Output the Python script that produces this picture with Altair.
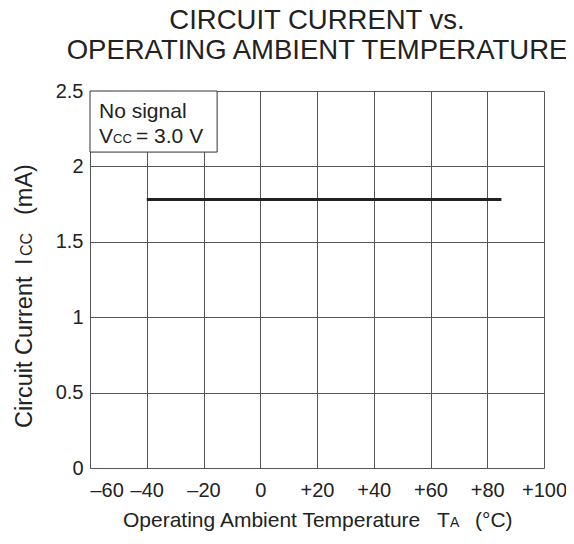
import altair as alt
import pandas as pd

# ---- data ----
temps = [-40, 85]
icc = [1.78, 1.78]

x_ticks = [-60, -40, -20, 0, 20, 40, 60, 80, 100]
y_ticks = [0, 0.5, 1, 1.5, 2, 2.5]

title_lines = ["CIRCUIT CURRENT vs.", "OPERATING AMBIENT TEMPERATURE"]
note_line1 = "No signal"
note_v = "V"
note_sub = "CC"
note_rest = "= 3.0 V"
note_box_t = [-60, -15.2]
note_box_i = [2.095, 2.5]

xtitle_parts = ["Operating Ambient Temperature", "T", "A", "(°C)"]
ytitle_parts = ["Circuit Current", "I", "CC", "(mA)"]

FONT = "Liberation Sans"
INK = "#222222"
W, H = 454, 377

df = pd.DataFrame({"t": temps, "i": icc})
box_df = pd.DataFrame({"t": [note_box_t[0]], "t2": [note_box_t[1]],
                       "i": [note_box_i[0]], "i2": [note_box_i[1]]})

xscale = alt.Scale(domain=[-60, 100], nice=False, zero=False)
yscale = alt.Scale(domain=[0, 2.5], nice=False, zero=False)

x_axis = alt.Axis(
    values=x_ticks, grid=True, gridColor="#555555", gridWidth=1,
    ticks=False, domain=False, title=None,
    labelExpr="datum.value > 0 ? '+' + datum.value : (datum.value < 0 ? '–' + abs(datum.value) : '0')",
    labelAlign=alt.expr("datum.value == -60 ? 'left' : 'center'"),
    labelFontSize=20, labelFont=FONT, labelColor=INK, labelPadding=12,
    labelOverlap=False, labelFlush=False,
)
y_axis = alt.Axis(
    values=y_ticks, grid=True, gridColor="#555555", gridWidth=1,
    ticks=False, domain=False, title=None,
    labelExpr="'' + datum.value",
    labelFontSize=20, labelFont=FONT, labelColor=INK, labelPadding=7,
    labelOverlap=False, labelFlush=False,
)

line = alt.Chart(df).mark_line(color=INK, strokeWidth=3).encode(
    x=alt.X("t:Q", scale=xscale, axis=x_axis),
    y=alt.Y("i:Q", scale=yscale, axis=y_axis),
)

box = alt.Chart(box_df).mark_rect(fill="white", stroke="#333333", strokeWidth=1).encode(
    x=alt.X("t:Q", scale=xscale),
    x2="t2:Q",
    y=alt.Y("i:Q", scale=yscale),
    y2="i2:Q",
)


def txt(s, x, y, size, align="left", angle=0):
    return alt.Chart(alt.Data(values=[{}])).mark_text(
        text=s, align=align, baseline="alphabetic", fontSize=size,
        font=FONT, color=INK, angle=angle,
    ).encode(x=alt.value(x), y=alt.value(y))


notes = [
    txt(note_line1, 9, 27, 21),
    txt(note_v, 9, 52, 21),
    txt(note_sub, 23, 52, 13),
    txt(note_rest, 46, 52, 21),
]

xt = [
    txt(xtitle_parts[0], 33, 436, 21),
    txt(xtitle_parts[1], 347, 436, 21),
    txt(xtitle_parts[2], 360, 436, 14),
    txt(xtitle_parts[3], 385, 436, 21),
]

yt = [
    txt(ytitle_parts[0], -58, 337, 23.5, angle=270),
    txt(ytitle_parts[1], -58, 174, 23.5, angle=270),
    txt(ytitle_parts[2], -58, 165, 16, angle=270),
    txt(ytitle_parts[3], -58, 124, 23.5, angle=270),
]

chart = alt.layer(box, line, *notes, *xt, *yt).properties(
    width=W, height=H,
    title=alt.TitleParams(
        text=title_lines, fontSize=27.5, font=FONT, fontWeight="normal",
        color=INK, lineHeight=30, offset=17, anchor="middle",
    ),
    autosize=alt.AutoSizeParams(type="none"),
    padding={"left": 82, "top": 83, "right": 22, "bottom": 70},
).configure_view(stroke=INK, strokeWidth=2).configure(background="white")

chart.save("out.html", embed_options={"renderer": "svg", "actions": False})
